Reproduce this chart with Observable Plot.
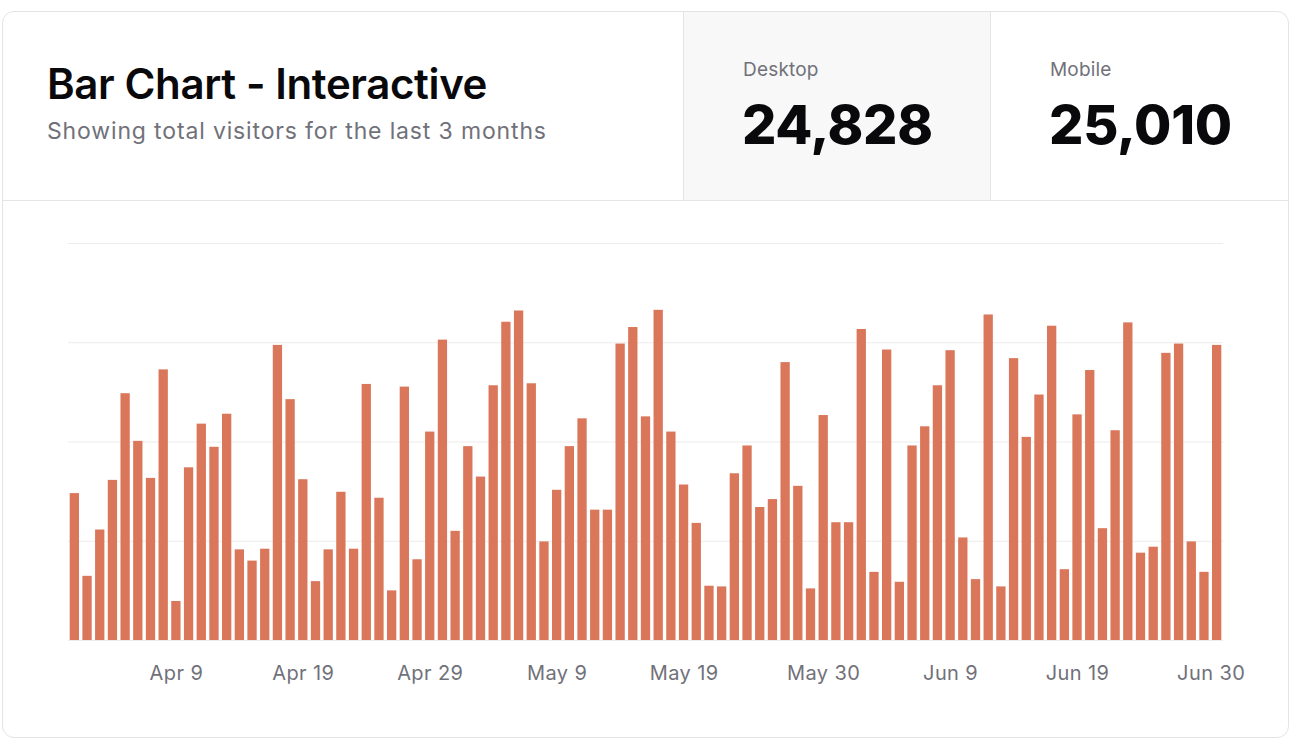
<!DOCTYPE html>
<html>
<head>
<meta charset="utf-8">
<script src="https://cdn.jsdelivr.net/npm/d3@7"></script>
<script src="https://cdn.jsdelivr.net/npm/@observablehq/plot@0.6"></script>
<style>
  html, body { margin: 0; padding: 0; background: #ffffff; width: 1290px; height: 740px; overflow: hidden; font-family: Inter, "Noto Sans", sans-serif; }
  .card { position: absolute; left: 2px; top: 11px; width: 1285px; height: 725px; border: 1px solid #e4e4e7; border-radius: 12px; box-sizing: content-box; background: #fff; }
  .header { position: absolute; left: 0; top: 0; width: 1285px; height: 188px; border-bottom: 1px solid #e4e4e7; }
  .title { position: absolute; left: 44px; top: 46px; font-size: 42px; font-weight: 600; letter-spacing: -0.009em; color: #09090b; white-space: nowrap; }
  .subtitle { position: absolute; left: 44px; top: 105px; font-size: 23px; color: #71717a; white-space: nowrap; letter-spacing: 0.037em; }
  .stat { position: absolute; top: 0; height: 188px; border-left: 1px solid #e4e4e7; }
  .stat.active { background: #f8f8f8; }
  .stat .lbl { position: absolute; left: 59px; top: 46px; font-size: 19px; color: #71717a; letter-spacing: 0.01em; }
  .stat .val { position: absolute; left: 58px; top: 80px; font-size: 54px; font-weight: 800; color: #09090b; letter-spacing: -0.005em; }
  #chart { position: absolute; left: 0; top: 223px; }
  #chart svg text { letter-spacing: 0.02em; }
</style>
</head>
<body>
<div class="card">
  <div class="header">
    <div class="title">Bar Chart - Interactive</div>
    <div class="subtitle">Showing total visitors for the last 3 months</div>
    <div class="stat active" style="left:680px;width:307px;"><div class="lbl" id="lblD"></div><div class="val" id="valD"></div></div>
    <div class="stat" style="left:987px;width:298px;"><div class="lbl" id="lblM"></div><div class="val" id="valM"></div></div>
  </div>
</div>
<div id="chart"></div>
<script>
const dates = [
  "2024-04-01","2024-04-02","2024-04-03","2024-04-04","2024-04-05","2024-04-06","2024-04-07","2024-04-08","2024-04-09","2024-04-10",
  "2024-04-11","2024-04-12","2024-04-13","2024-04-14","2024-04-15","2024-04-16","2024-04-17","2024-04-18","2024-04-19","2024-04-20",
  "2024-04-21","2024-04-22","2024-04-23","2024-04-24","2024-04-25","2024-04-26","2024-04-27","2024-04-28","2024-04-29","2024-04-30",
  "2024-05-01","2024-05-02","2024-05-03","2024-05-04","2024-05-05","2024-05-06","2024-05-07","2024-05-08","2024-05-09","2024-05-10",
  "2024-05-11","2024-05-12","2024-05-13","2024-05-14","2024-05-15","2024-05-16","2024-05-17","2024-05-18","2024-05-19","2024-05-20",
  "2024-05-21","2024-05-22","2024-05-23","2024-05-24","2024-05-25","2024-05-26","2024-05-27","2024-05-28","2024-05-29","2024-05-30",
  "2024-05-31","2024-06-01","2024-06-02","2024-06-03","2024-06-04","2024-06-05","2024-06-06","2024-06-07","2024-06-08","2024-06-09",
  "2024-06-10","2024-06-11","2024-06-12","2024-06-13","2024-06-14","2024-06-15","2024-06-16","2024-06-17","2024-06-18","2024-06-19",
  "2024-06-20","2024-06-21","2024-06-22","2024-06-23","2024-06-24","2024-06-25","2024-06-26","2024-06-27","2024-06-28","2024-06-29",
  "2024-06-30"
];
const desktop = [
  222, 97, 167, 242, 373, 301, 245, 409, 59, 261,
  327, 292, 342, 137, 120, 138, 446, 364, 243, 89,
  137, 224, 138, 387, 215, 75, 383, 122, 315, 454,
  165, 293, 247, 385, 481, 498, 388, 149, 227, 293,
  335, 197, 197, 448, 473, 338, 499, 315, 235, 177,
  82, 81, 252, 294, 201, 213, 420, 233, 78, 340,
  178, 178, 470, 103, 439, 88, 294, 323, 385, 438,
  155, 92, 492, 81, 426, 307, 371, 475, 107, 341,
  408, 169, 317, 480, 132, 141, 434, 448, 149, 103,
  446
];
const seriesLabels = ["Desktop", "Mobile"];
const seriesTotals = [24828, 25010];
const tickDates = ["2024-04-09","2024-04-19","2024-04-29","2024-05-09","2024-05-19","2024-05-30","2024-06-09","2024-06-19"];
const endTickDates = ["2024-06-30"];
const yTicks = [0, 150, 300, 450, 600];

document.getElementById("lblD").textContent = seriesLabels[0];
document.getElementById("lblM").textContent = seriesLabels[1];
document.getElementById("valD").textContent = seriesTotals[0].toLocaleString("en-US");
document.getElementById("valM").textContent = seriesTotals[1].toLocaleString("en-US");

const data = dates.map((d, i) => ({date: d, desktop: desktop[i]}));
const fmt = d3.utcFormat("%b %-d");
const parse = d3.utcParse("%Y-%m-%d");
const axisOpts = {tickFormat: d => fmt(parse(d)), tickSize: 0, tickPadding: 25, fontSize: 20, fill: "#71717a", label: null};

const chart = Plot.plot({
  width: 1290,
  height: 480,
  marginLeft: 68,
  marginRight: 67,
  marginTop: 20,
  marginBottom: 63,
  style: {fontFamily: "Inter, 'Noto Sans', sans-serif", fontSize: "20px", color: "#71717a", background: "transparent"},
  x: {type: "band", domain: dates, padding: 0, label: null, axis: null},
  y: {domain: [0, 600], label: null, axis: null},
  marks: [
    Plot.ruleY(yTicks, {stroke: "#ececec", strokeWidth: 1}),
    Plot.barY(data, {x: "date", y: "desktop", fill: "#da7659", insetLeft: 1.7, insetRight: 1.7}),
    Plot.axisX({ticks: tickDates, ...axisOpts}),
    Plot.axisX({ticks: endTickDates, ...axisOpts, dx: -6})
  ]
});
document.getElementById("chart").appendChild(chart);
</script>
</body>
</html>
